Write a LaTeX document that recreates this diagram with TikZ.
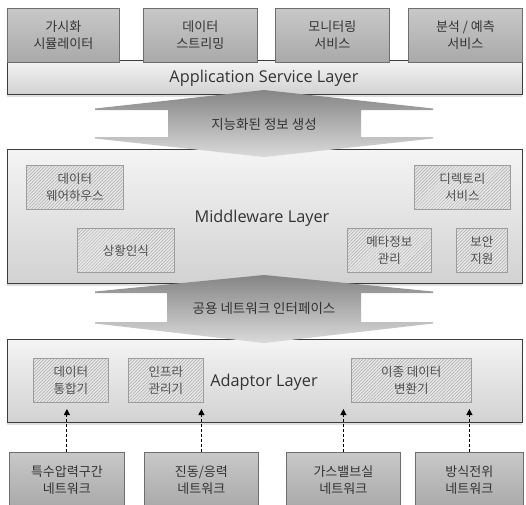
\documentclass[tikz,border=0pt]{standalone}
\usepackage{fontspec}
\setmainfont{Noto Sans CJK KR}
\newfontfamily\latfont{Open Sans}
\usetikzlibrary{patterns,patterns.meta,arrows.meta,shadows}
\definecolor{boxtop}{HTML}{C8C8C8}
\definecolor{boxbot}{HTML}{A9A9A9}
\definecolor{boxline}{HTML}{6E6E6E}
\definecolor{laytop}{HTML}{F4F4F4}
\definecolor{laybot}{HTML}{D2D2D2}
\definecolor{layline}{HTML}{3C3C3C}
\definecolor{hatchbg}{HTML}{E8E8E8}
\definecolor{hatchln}{HTML}{A8A8A8}
\definecolor{hatchbd}{HTML}{9C9C9C}
\definecolor{txtdark}{HTML}{333333}
\definecolor{txthatch}{HTML}{505050}
\definecolor{arrtop}{HTML}{858585}
\definecolor{arrbot}{HTML}{DADADA}
\begin{document}
\begin{tikzpicture}[x=1pt,y=-1pt,
  graybox/.style={draw=boxline, line width=0.8pt, top color=boxtop, bottom color=boxbot,
    anchor=north west, inner sep=0pt, align=center, text=txtdark,
    font=\fontsize{13}{17}\selectfont},
  layer/.style={draw=layline, line width=0.9pt, top color=laytop, bottom color=laybot,
    anchor=north west, inner sep=0pt,
    drop shadow={shadow xshift=0pt, shadow yshift=-2.5pt, opacity=0.25}},
  laylabel/.style={text=txtdark, inner sep=0pt, font=\latfont\fontsize{16.3}{19}\selectfont},
  hatchbox/.style={draw=hatchbd, line width=0.6pt, preaction={fill=hatchbg},
    pattern={Lines[angle=45,distance=2.3pt,line width=0.5pt]}, pattern color=hatchln,
    anchor=north west, inner sep=0pt, align=center, text=txthatch,
    font=\fontsize{12.5}{17}\selectfont},
  bigarrow/.style={top color=arrtop, bottom color=arrbot, draw=none},
  arrlabel/.style={text=txtdark, inner sep=0pt, font=\fontsize{13.5}{16}\selectfont},
  dasharrow/.style={draw=black, line width=0.9pt, dash pattern=on 3pt off 2pt,
    -{Triangle[length=6pt,width=6pt]}}
]
\useasboundingbox (0,0) rectangle (526,504);
\clip (0,0) rectangle (526,504);

% Application service layer
\node[layer, minimum width=515, minimum height=34] (app) at (7,60) {};
\node[graybox, minimum width=112, minimum height=54] (t1) at (7,8) {가시화\\시뮬레이터};
\node[graybox, minimum width=114, minimum height=54] (t2) at (143,8) {데이터\\스트리밍};
\node[graybox, minimum width=114, minimum height=54] (t3) at (275,8) {모니터링\\서비스};
\node[graybox, minimum width=114, minimum height=54] (t4) at (408,8) {분석 / 예측\\서비스};
\node[laylabel] (applbl) at (264,78) {Application Service Layer};

% Middleware layer
\node[layer, minimum width=515, minimum height=134] (mid) at (7,149) {};
\node[laylabel] (midlbl) at (262,218) {Middleware Layer};
\node[hatchbox, minimum width=97, minimum height=44] (m1) at (26,165) {데이터\\웨어하우스};
\node[hatchbox, minimum width=96, minimum height=44] (m2) at (414,165) {디렉토리\\서비스};
\node[hatchbox, minimum width=97, minimum height=44] (m3) at (77,228) {상황인식};
\node[hatchbox, minimum width=84, minimum height=44] (m4) at (347,228) {메타정보\\관리};
\node[hatchbox, minimum width=51, minimum height=44] (m5) at (456,228) {보안\\지원};

% Adaptor layer
\node[layer, minimum width=515, minimum height=83] (ada) at (7,339) {};
\node[laylabel] (adalbl) at (264,382) {Adaptor Layer};
\node[hatchbox, minimum width=75, minimum height=44] (a1) at (33,358) {데이터\\통합기};
\node[hatchbox, minimum width=75, minimum height=44] (a2) at (128,358) {인프라\\관리기};
\node[hatchbox, minimum width=120, minimum height=44] (a3) at (351,358) {이종 데이터\\변환기};

% big double arrows
\path[bigarrow] (264,90) -- (433,108.5) -- (433,110) -- (361,110) -- (361,137)
  -- (433,137) -- (433,138.5) -- (264,157) -- (95,138.5) -- (95,137) -- (168,137)
  -- (168,110) -- (95,110) -- (95,108.5) -- cycle;
\node[arrlabel] (arr1) at (264,124) {지능화된 정보 생성};
\path[bigarrow] (264,275) -- (433,291.5) -- (433,293) -- (361,293) -- (361,322)
  -- (433,322) -- (433,323.5) -- (264,343) -- (95,323.5) -- (95,322) -- (167,322)
  -- (167,293) -- (95,293) -- (95,291.5) -- cycle;
\node[arrlabel] (arr2) at (264,308) {공용 네트워크 인터페이스};

% bottom network boxes
\node[graybox, minimum width=115, minimum height=56] (b1) at (9,452) {특수압력구간\\네트워크};
\node[graybox, minimum width=114, minimum height=56] (b2) at (144,452) {진동/응력\\네트워크};
\node[graybox, minimum width=114, minimum height=56] (b3) at (286,452) {가스밸브실\\네트워크};
\node[graybox, minimum width=108, minimum height=56] (b4) at (415,452) {방식전위\\네트워크};

% dashed arrows into the adaptor layer
\coordinate (tipline) at (0,409);
\draw[dasharrow] (b1.north) -- (b1.north |- tipline);
\draw[dasharrow] (b2.north) -- (b2.north |- tipline);
\draw[dasharrow] (b3.north) -- (b3.north |- tipline);
\draw[dasharrow] (b4.north) -- (b4.north |- tipline);
\end{tikzpicture}
\end{document}
